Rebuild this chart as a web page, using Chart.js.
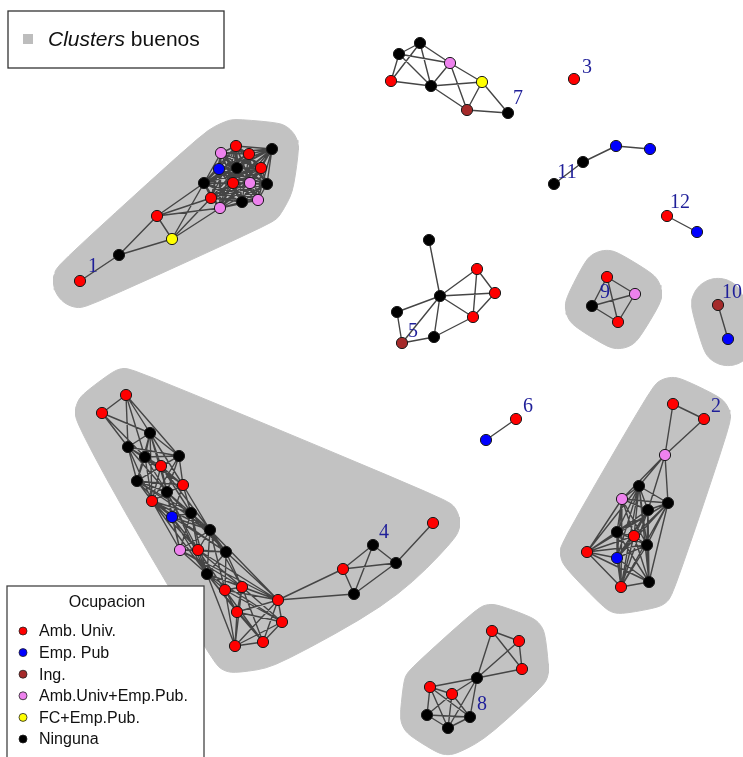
<!DOCTYPE html>
<html><head><meta charset="utf-8">
<script src="https://cdn.jsdelivr.net/npm/chart.js@4.4.1/dist/chart.umd.min.js"></script>
<style>html,body{margin:0;padding:0;background:#fff;}canvas{display:block;}</style>
</head><body>
<canvas id="c" width="743" height="757"></canvas>
<script>
// Occupation codes
const R = 0, B = 1, I = 2, P = 3, Y = 4, K = 5;
const occupations = ['Amb. Univ.', 'Emp. Pub', 'Ing.', 'Amb.Univ+Emp.Pub.', 'FC+Emp.Pub.', 'Ninguna'];
const legendTitle = 'Ocupacion';
const hullLegendItalic = 'Clusters';
const hullLegendRest = ' buenos';

// Cluster 1
const c1X = [80,119,172,157,220,211,204,219,221,236,249,272,237,261,233,250,267,242,258];
const c1Y = [281,255,239,216,208,198,183,169,153,146,154,149,168,168,183,183,184,202,200];
const c1Occ = [R,K,Y,R,P,R,K,B,P,R,R,K,K,R,R,P,K,K,P];
const c1Edges = [[0,1],[1,3],[1,2],[2,3],[3,6],[3,5],[3,4],[2,6],[2,5],[2,4]];
const c1Cliques = [[4,5,6,7,8,9,10,11,12,13,14,15,16,17,18]];
// Cluster 2
const c2X = [673,704,665,639,622,668,648,617,634,647,587,617,621,649];
const c2Y = [404,419,455,486,499,503,510,532,536,545,552,558,587,582];
const c2Occ = [R,R,P,K,P,K,K,K,R,K,R,B,R,K];
const c2Edges = [[0,1],[0,2],[1,2],[2,3],[2,4],[2,5],[2,6]];
const c2Cliques = [[3,4,5,6,7,8,9,10,11,12,13]];
// Cluster 3
const c3X = [574];
const c3Y = [79];
const c3Occ = [R];
const c3Edges = [];
const c3Cliques = [];
// Cluster 4
const c4X = [126,102,150,128,145,179,161,137,183,167,152,172,191,210,180,198,226,207,225,242,278,237,282,235,263,343,373,396,354,433];
const c4Y = [395,413,433,447,457,456,466,481,485,492,501,517,513,530,550,550,552,574,590,587,600,612,622,646,642,569,545,563,594,523];
const c4Occ = [R,R,K,K,K,K,R,K,R,K,R,B,K,K,P,R,K,K,R,R,R,R,R,R,R,R,K,K,K,R];
const c4Edges = [[0,1],[0,2],[0,3],[0,4],[0,5],[1,2],[1,3],[1,4],[20,25],[20,28],[25,26],[25,27],[25,28],[26,27],[26,28],[27,28],[27,29]];
const c4Cliques = [[2,3,4,5,6,7,8,9,10],[6,7,8,9,10,11,12,13],[9,10,11,12,13,14,15,16,17],[13,14,15,16,17,18,19,20],[17,18,19,20,21,22,23,24]];
// Cluster 5
const c5X = [429,477,495,440,473,397,434,402];
const c5Y = [240,269,293,296,317,312,337,343];
const c5Occ = [K,R,R,K,R,K,K,I];
const c5Edges = [[0,3],[3,1],[3,2],[3,4],[1,2],[1,4],[2,4],[3,5],[3,7],[3,6],[5,7],[7,6],[6,4]];
const c5Cliques = [];
// Cluster 6
const c6X = [486,516];
const c6Y = [440,419];
const c6Occ = [B,R];
const c6Edges = [[0,1]];
const c6Cliques = [];
// Cluster 7
const c7X = [420,399,450,391,431,482,467,508];
const c7Y = [43,54,63,81,86,82,110,113];
const c7Occ = [K,K,P,R,K,Y,I,K];
const c7Edges = [[0,1],[0,2],[0,4],[0,3],[1,3],[1,2],[1,4],[3,4],[4,2],[4,5],[4,6],[2,5],[2,6],[5,6],[5,7],[6,7]];
const c7Cliques = [];
// Cluster 8
const c8X = [492,519,522,477,430,452,427,470,448];
const c8Y = [631,641,669,678,687,694,715,717,728];
const c8Occ = [R,R,R,K,R,R,K,K,K];
const c8Edges = [[0,1],[0,2],[1,2],[0,3],[1,3],[2,3],[3,4],[3,5],[3,7],[3,8]];
const c8Cliques = [[4,5,6,7,8]];
// Cluster 9
const c9X = [607,635,592,618];
const c9Y = [277,294,306,322];
const c9Occ = [R,P,K,R];
const c9Edges = [];
const c9Cliques = [[0,1,2,3]];
// Cluster 10
const c10X = [718,728];
const c10Y = [305,339];
const c10Occ = [I,B];
const c10Edges = [[0,1]];
const c10Cliques = [];
// Cluster 11
const c11X = [554,583,616,650];
const c11Y = [184,162,146,149];
const c11Occ = [K,K,B,B];
const c11Edges = [[0,1],[1,2],[2,3]];
const c11Cliques = [];
// Cluster 12
const c12X = [667,697];
const c12Y = [216,232];
const c12Occ = [R,B];
const c12Edges = [[0,1]];
const c12Cliques = [];

const clusterLabels = ['1','2','3','4','5','6','7','8','9','10','11','12'];
const labelX = [93,716,587,384,413,528,518,482,605,732,567,680];
const labelY = [267,407,68,533,332,407,99,705,293,293,173,203];
const goodClusters = ['1','2','4','8','9','10'];

const clusterX = [c1X,c2X,c3X,c4X,c5X,c6X,c7X,c8X,c9X,c10X,c11X,c12X];
const clusterY = [c1Y,c2Y,c3Y,c4Y,c5Y,c6Y,c7Y,c8Y,c9Y,c10Y,c11Y,c12Y];
const clusterOcc = [c1Occ,c2Occ,c3Occ,c4Occ,c5Occ,c6Occ,c7Occ,c8Occ,c9Occ,c10Occ,c11Occ,c12Occ];
const clusterEdges = [c1Edges,c2Edges,c3Edges,c4Edges,c5Edges,c6Edges,c7Edges,c8Edges,c9Edges,c10Edges,c11Edges,c12Edges];
const clusterCliques = [c1Cliques,c2Cliques,c3Cliques,c4Cliques,c5Cliques,c6Cliques,c7Cliques,c8Cliques,c9Cliques,c10Cliques,c11Cliques,c12Cliques];

// Styles
const occColors = ['#ff0000','#0000ff','#a52a2a','#ee82ee','#ffff00','#000000'];
const hullColor = '#c2c2c2';
const hullExpand = 27;

// Build node and edge data
const nodePts = [], nodeCols = [], edgePts = [];
clusterX.forEach((xs, ci) => {
  const ys = clusterY[ci];
  xs.forEach((x, i) => { nodePts.push({x: x, y: ys[i]}); nodeCols.push(occColors[clusterOcc[ci][i]]); });
  const pairs = clusterEdges[ci].slice();
  clusterCliques[ci].forEach(cl => {
    for (let a = 0; a < cl.length; a++) for (let b = a + 1; b < cl.length; b++) pairs.push([cl[a], cl[b]]);
  });
  const seen = new Set();
  pairs.forEach(([a, b]) => {
    const key = Math.min(a,b) + '-' + Math.max(a,b);
    if (seen.has(key)) return; seen.add(key);
    edgePts.push({x: xs[a], y: ys[a]}, {x: xs[b], y: ys[b]}, {x: null, y: null});
  });
});

// Convex hull expanded by a radius, then smoothed (rounded blob) in data units
function hullOutline(xs, ys, r) {
  let pts = xs.map((x, i) => [x, ys[i]]).sort((a, b) => a[0] - b[0] || a[1] - b[1]);
  const cross = (o, a, b) => (a[0]-o[0])*(b[1]-o[1]) - (a[1]-o[1])*(b[0]-o[0]);
  const lower = [], upper = [];
  for (const p of pts) { while (lower.length >= 2 && cross(lower[lower.length-2], lower[lower.length-1], p) <= 0) lower.pop(); lower.push(p); }
  for (let i = pts.length - 1; i >= 0; i--) { const p = pts[i]; while (upper.length >= 2 && cross(upper[upper.length-2], upper[upper.length-1], p) <= 0) upper.pop(); upper.push(p); }
  const hull = lower.slice(0, -1).concat(upper.slice(0, -1));
  const n = hull.length;
  let out = [];
  const normAng = (p, q) => { const dx = q[0]-p[0], dy = q[1]-p[1]; return Math.atan2(-dx, dy); };
  for (let i = 0; i < n; i++) {
    const prev = hull[(i - 1 + n) % n], cur = hull[i], next = hull[(i + 1) % n];
    let a1 = normAng(prev, cur), a2 = normAng(cur, next);
    while (a2 < a1) a2 += 2 * Math.PI;
    const steps = Math.max(2, Math.ceil((a2 - a1) / 0.1));
    for (let s = 0; s <= steps; s++) {
      const a = a1 + (a2 - a1) * s / steps;
      out.push([cur[0] + r * Math.cos(a), cur[1] + r * Math.sin(a)]);
    }
  }
  // moving-average smoothing (closed) to soften corners like an x-spline
  for (let it = 0; it < 6; it++) {
    const m = out.length;
    out = out.map((p, i) => {
      const a = out[(i - 1 + m) % m], c = out[(i + 1) % m];
      return [(a[0] + 2 * p[0] + c[0]) / 4, (a[1] + 2 * p[1] + c[1]) / 4];
    });
  }
  const res = out.map(p => ({x: p[0], y: p[1]}));
  res.push(res[0]);
  return res;
}

const datasets = [];
goodClusters.forEach(lbl => {
  const ci = clusterLabels.indexOf(lbl);
  datasets.push({
    type: 'line', data: hullOutline(clusterX[ci], clusterY[ci], hullExpand),
    fill: 'shape', backgroundColor: hullColor, borderColor: hullColor, borderWidth: 1,
    pointRadius: 0, tension: 0, order: 3, clip: false
  });
});
datasets.push({
  type: 'line', data: edgePts, borderColor: '#454545', borderWidth: 1.4,
  pointRadius: 0, fill: false, spanGaps: false, tension: 0, order: 2
});
datasets.push({
  type: 'scatter', data: nodePts, pointRadius: 5.6, pointBackgroundColor: nodeCols,
  pointBorderColor: '#1a1a1a', pointBorderWidth: 1, order: 1
});

const textPlugin = {
  id: 'texts',
  afterDraw(chart) {
    const ctx = chart.ctx, sx = chart.scales.x, sy = chart.scales.y;
    ctx.save();
    // cluster labels
    ctx.fillStyle = '#1f1f99';
    ctx.font = '20px "Liberation Serif", "DejaVu Serif", serif';
    ctx.textAlign = 'center'; ctx.textBaseline = 'middle';
    clusterLabels.forEach((t, i) => ctx.fillText(t, sx.getPixelForValue(labelX[i]), sy.getPixelForValue(labelY[i])));
    // top legend
    ctx.fillStyle = '#ffffff'; ctx.strokeStyle = '#333'; ctx.lineWidth = 1.3;
    ctx.fillRect(8, 11, 216, 57); ctx.strokeRect(8, 11, 216, 57);
    ctx.fillStyle = '#bdbdbd'; ctx.fillRect(23, 34, 10, 10);
    ctx.fillStyle = '#111'; ctx.textAlign = 'left'; ctx.textBaseline = 'middle';
    ctx.font = 'italic 21px "Liberation Sans", Arial, sans-serif';
    ctx.fillText(hullLegendItalic, 48, 40);
    const w = ctx.measureText(hullLegendItalic).width;
    ctx.font = '21px "Liberation Sans", Arial, sans-serif';
    ctx.fillText(hullLegendRest, 48 + w, 40);
    // bottom legend
    ctx.fillStyle = '#ffffff'; ctx.strokeStyle = '#444'; ctx.lineWidth = 1.3;
    ctx.fillRect(7, 586, 197, 190); ctx.strokeRect(7, 586, 197, 190);
    ctx.fillStyle = '#111'; ctx.font = '16px "Liberation Sans", Arial, sans-serif';
    ctx.textAlign = 'center';
    ctx.fillText(legendTitle, 107, 603);
    ctx.textAlign = 'left';
    occupations.forEach((o, i) => {
      const yy = 631 + i * 21.6;
      ctx.beginPath(); ctx.arc(23, yy, 4, 0, 2 * Math.PI);
      ctx.fillStyle = occColors[i]; ctx.fill();
      ctx.strokeStyle = '#222'; ctx.lineWidth = 0.8; ctx.stroke();
      ctx.fillStyle = '#111';
      ctx.fillText(o, 39, yy + 1);
    });
    ctx.restore();
  }
};

new Chart(document.getElementById('c'), {
  type: 'scatter',
  data: { datasets },
  options: {
    responsive: false, animation: false, events: [],
    layout: { padding: 0, autoPadding: false },
    plugins: { legend: { display: false }, tooltip: { enabled: false } },
    scales: {
      x: { type: 'linear', min: 0, max: 743, display: false },
      y: { type: 'linear', min: 0, max: 757, reverse: true, display: false }
    }
  },
  plugins: [textPlugin]
});
</script>
</body></html>
